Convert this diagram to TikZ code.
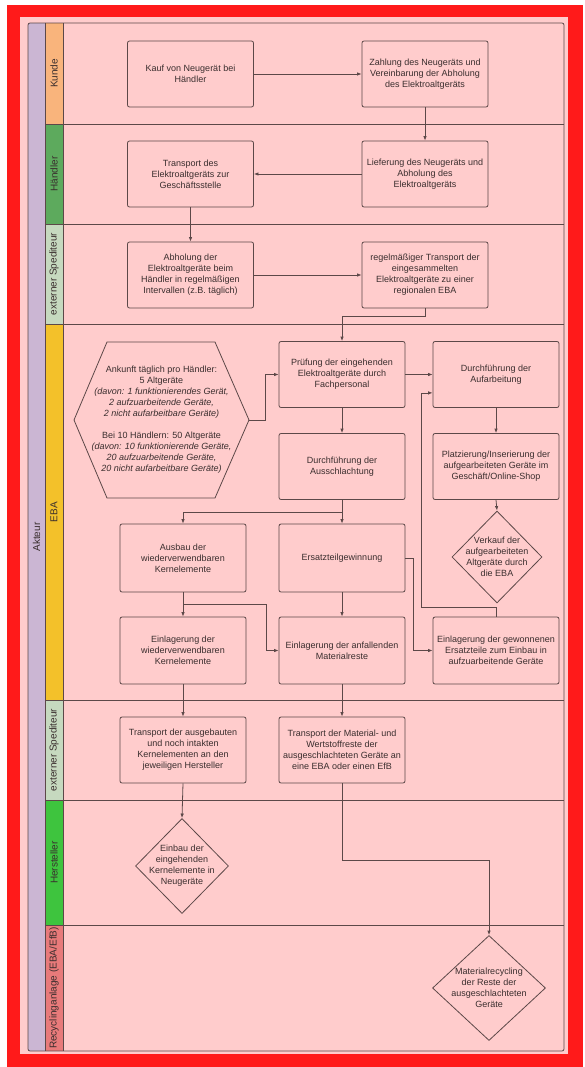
\documentclass[tikz,border=0pt]{standalone}
\usepackage{fontspec}
\setmainfont{Liberation Sans}
\usetikzlibrary{arrows.meta,calc,shapes.geometric}

\definecolor{framered}{HTML}{FF1A1A}
\definecolor{bgpink}{HTML}{FFCCCC}
\definecolor{linec}{HTML}{5C4848}
\definecolor{textc}{HTML}{3A2E2E}
\definecolor{poolcol}{HTML}{CBB6D3}
\definecolor{kundecol}{HTML}{F9B47C}
\definecolor{haendlercol}{HTML}{5DAA5D}
\definecolor{speditcol}{HTML}{C6D9BF}
\definecolor{ebacol}{HTML}{F3C12A}
\definecolor{herstcol}{HTML}{3EC43E}
\definecolor{recyccol}{HTML}{E87A7A}

\tikzset{
  procbox/.style={draw=linec, line width=0.8pt, rounded corners=2pt,
    minimum width=126pt, minimum height=66pt, inner sep=1pt,
    align=center, text=textc, font=\fontsize{9}{11}\selectfont},
  decision/.style={draw=linec, line width=0.8pt, shape=diamond, inner sep=0pt},
  dtext/.style={align=center, text=textc, inner sep=0pt,
    font=\fontsize{9}{11}\selectfont},
  hextext/.style={align=center, text=textc, inner sep=0pt,
    font=\fontsize{9}{11}\selectfont},
  lanelabel/.style={rotate=90, text=textc, inner sep=0pt,
    font=\fontsize{10}{12}\selectfont},
  lanerule/.style={draw=linec, line width=0.8pt},
  flow/.style={draw=linec, line width=0.8pt, -{Latex[length=4.5pt,width=3.5pt]}},
}

\begin{document}
\begin{tikzpicture}[x=1pt,y=-1pt]
\useasboundingbox (0,0) rectangle (585,1067);
\fill[white] (0,0) rectangle (585,1067);
% red frame and pink canvas
\fill[framered] (7,5) rectangle (583,1067);
\fill[bgpink] (20,17) rectangle (568,1054);

% pool header column
\fill[poolcol] (28,23) rectangle (45,1051);
% lane header columns
\fill[kundecol]    (45,23)  rectangle (63,124);
\fill[haendlercol] (45,124) rectangle (63,224);
\fill[speditcol]   (45,224) rectangle (63,324);
\fill[ebacol]      (45,324) rectangle (63,700);
\fill[speditcol]   (45,700) rectangle (63,800);
\fill[herstcol]    (45,800) rectangle (63,925);
\fill[recyccol]    (45,925) rectangle (63,1051);

% lane separators
\foreach \yy in {124,224,324,700,800,925}
  \draw[lanerule] (45,\yy) -- (564,\yy);
\draw[lanerule] (45,23) -- (45,1051);
\draw[lanerule] (63,23) -- (63,1051);
\draw[lanerule, rounded corners=2pt] (28,23) rectangle (564,1051);

% pool and lane labels
\node[lanelabel] (akteur) at (36.5,537) {Akteur};
\node[lanelabel] (lkunde) at (54,73.5) {Kunde};
\node[lanelabel] (lhaendler) at (54,174) {Händler};
\node[lanelabel] (lspedA) at (54,274) {externer Spediteur};
\node[lanelabel] (leba) at (54,512) {EBA};
\node[lanelabel] (lspedB) at (54,750) {externer Spediteur};
\node[lanelabel] (lherst) at (54,862.5) {Hersteller};
\node[lanelabel] (lrecyc) at (54,988) {Recyclinganlage (EBA/EfB)};

% Kunde
\node[procbox] (kauf) at (190.5,74) {Kauf von Neugerät bei\\Händler};
\node[procbox] (zahlung) at (425,74) {Zahlung des Neugeräts und\\Vereinbarung der Abholung\\des Elektroaltgeräts};
% Händler
\node[procbox] (transportH) at (190.5,174) {Transport des\\Elektroaltgeräts zur\\Geschäftsstelle};
\node[procbox] (lieferung) at (425,174) {Lieferung des Neugeräts und\\Abholung des\\Elektroaltgeräts};
% externer Spediteur
\node[procbox] (abholung) at (190.5,275) {Abholung der\\Elektroaltgeräte beim\\Händler in regelmäßigen\\Intervallen (z.B. täglich)};
\node[procbox] (regtrans) at (425,275) {regelmäßiger Transport der\\eingesammelten\\Elektroaltgeräte zu einer\\regionalen EBA};

% EBA
\node[hextext] (ankunft) at (161.5,420) {Ankunft täglich pro Händler:\\5 Altgeräte\\\textit{(davon: 1 funktionierendes Gerät,}\\\textit{2 aufzuarbeitende Geräte,}\\\textit{2 nicht aufarbeitbare Geräte)}\\[11pt]Bei 10 Händlern: 50 Altgeräte\\\textit{(davon: 10 funktionierende Geräte,}\\\textit{20 aufzuarbeitende Geräte,}\\\textit{20 nicht aufarbeitbare Geräte)}};
\draw[lanerule] (74,420) -- (107,342) -- (215,342) -- (249,420) -- (215,498) -- (107,498) -- cycle;
\coordinate (ankunftR) at (249,420);

\node[procbox] (pruefung) at (342,374.5) {Prüfung der eingehenden\\Elektroaltgeräte durch\\Fachpersonal};
\node[procbox] (aufarb) at (496,374.5) {Durchführung der\\Aufarbeitung};
\node[procbox] (ausschl) at (342,466.5) {Durchführung der\\Ausschlachtung};
\node[procbox] (platz) at (496,466.5) {Platzierung/Inserierung der\\aufgearbeiteten Geräte im\\Geschäft/Online-Shop};
\node[decision, minimum width=90pt, minimum height=92pt] (verkauf) at (497,557) {};
\node[dtext] (verkauf-t) at (verkauf) {Verkauf der\\aufgearbeiteten\\Altgeräte durch\\die EBA};

\node[procbox, minimum height=68pt] (ausbau) at (183,558) {Ausbau der\\wiederverwendbaren\\Kernelemente};
\node[procbox, minimum height=68pt] (ersatz) at (342,558) {Ersatzteilgewinnung};
\node[procbox, minimum height=67pt] (einlKern) at (183,650.5) {Einlagerung der\\wiederverwendbaren\\Kernelemente};
\node[procbox, minimum height=67pt] (einlMat) at (342,650.5) {Einlagerung der anfallenden\\Materialreste};
\node[procbox, minimum height=67pt] (einlErs) at (496,650.5) {Einlagerung der gewonnenen\\Ersatzteile zum Einbau in\\aufzuarbeitende Geräte};

% externer Spediteur (lower)
\node[procbox] (transKern) at (183,750) {Transport der ausgebauten\\und noch intakten\\Kernelementen an den\\jeweiligen Hersteller};
\node[procbox] (transMat) at (342,750) {Transport der Material- und\\Wertstoffreste der\\ausgeschlachteten Geräte an\\eine EBA oder einen EfB};

% Hersteller
\node[decision, minimum width=93pt, minimum height=95pt] (einbau) at (182,866) {};
\node[dtext] (einbau-t) at (einbau) {Einbau der\\eingehenden\\Kernelemente in\\Neugeräte};

% Recyclinganlage
\node[decision, minimum width=113pt, minimum height=105pt] (recyc) at (489,988) {};
\node[dtext] (recyc-t) at (recyc) {Materialrecycling\\der Reste der\\ausgeschlachteten\\Geräte};

% connectors
\draw[flow] (kauf.east) -- (zahlung.west);
\draw[flow] (zahlung.south) -- (lieferung.north);
\draw[flow] (lieferung.west) -- (transportH.east);
\draw[flow] (transportH.south) -- (abholung.north);
\draw[flow] (abholung.east) -- (regtrans.west);
\draw[flow] (regtrans.south) -- ++(0,8) -| (pruefung.north);
\draw[flow] (ankunftR) -- ++(16,0) |- (pruefung.west);
\draw[flow] (pruefung.east) -- (aufarb.west);
\draw[flow] (pruefung.south) -- (ausschl.north);
\draw[flow] (aufarb.south) -- (platz.north);
\draw[flow] (platz.south) -- (verkauf.north);
\draw[flow] (ausschl.south) -- ++(0,12) -| (ausbau.north);
\draw[flow] (ausschl.south) -- (ersatz.north);
\draw[flow] (ausbau.south) -- (einlKern.north);
\draw[flow] (ausbau.south) -- ++(0,12) -| ($(einlMat.west)+(-12,0)$) -- (einlMat.west);
\draw[flow] (ersatz.south) -- (einlMat.north);
\draw[flow] (ersatz.east) -- ++(8,0) |- (einlErs.west);
\draw[flow] (einlErs.north) -- ++(0,-9) -| ($(aufarb.south west)+(-11,-15)$) -- ($(aufarb.south west)+(0,-15)$);
\draw[flow] (einlKern.south) -- (transKern.north);
\draw[flow] (einlMat.south) -- (transMat.north);
\draw[flow] (transKern.south) -- (einbau.north);
\draw[flow] (transMat.south) -- ++(0,77) -| (recyc.north);
\end{tikzpicture}
\end{document}
